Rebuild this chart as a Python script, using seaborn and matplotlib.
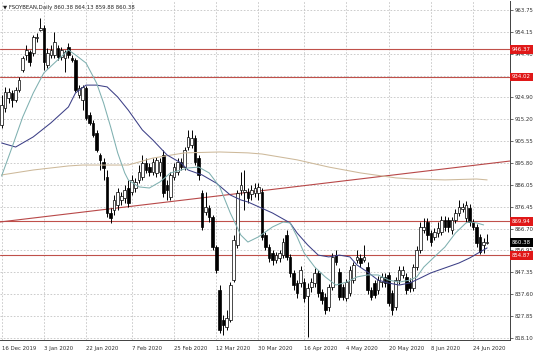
import numpy as np
import pandas as pd
import matplotlib
matplotlib.use("Agg")
import matplotlib.pyplot as plt
import matplotlib.transforms as mtransforms
import seaborn as sns

# ---------------- data ----------------
opens = [912.7, 920.2, 924.7, 926.9, 923.8, 928.2, 937.1, 943.8, 945.1, 944.7,
         951.3, 954.9, 955.8, 939.3, 943.8, 943.8, 946.9, 942.9, 942.4, 947.3,
         942.4, 941.6, 926.0, 923.8, 929.1, 917.1, 913.6, 909.1, 899.4, 896.3,
         889.6, 873.6, 875.0, 877.2, 879.4, 880.3, 884.7, 883.0, 884.7, 888.3,
         889.6, 895.8, 894.1, 891.8, 891.4, 891.8, 899.4, 886.1, 880.7, 889.6,
         891.8, 896.3, 894.1, 902.9, 903.8, 906.9, 898.0, 882.5, 874.1, 875.8,
         871.9, 858.5, 839.4, 826.1, 823.0, 826.1, 843.9, 859.4, 883.8, 883.0,
         883.0, 882.1, 882.5, 882.5, 883.0, 863.9, 858.5, 855.9, 852.8, 853.6,
         855.0, 863.9, 854.1, 847.0, 842.5, 842.5, 843.0, 836.8, 840.8, 842.5,
         847.0, 838.6, 836.3, 831.9, 840.8, 855.0, 847.4, 840.8, 835.9, 838.1,
         843.9, 852.8, 853.6, 852.8, 849.7, 839.4, 842.5, 839.4, 843.0, 845.2,
         846.1, 838.1, 831.9, 843.9, 846.1, 845.2, 843.0, 840.3, 849.7, 857.2,
         866.1, 869.6, 864.7, 863.0, 864.7, 865.2, 870.5, 870.5, 866.1, 870.5,
         873.6, 875.4, 871.4, 875.8, 869.6, 867.4, 863.0, 859.4, 860.38]
highs = [926.0, 929.6, 929.1, 928.2, 929.6, 934.0, 943.3, 948.2, 946.0, 952.7,
         953.5, 960.2, 957.1, 946.9, 948.2, 954.0, 948.2, 947.3, 946.0, 949.1,
         943.8, 942.4, 930.5, 930.5, 930.0, 918.5, 914.9, 910.5, 900.3, 898.0,
         892.7, 875.8, 881.6, 884.7, 883.0, 886.1, 888.3, 890.5, 889.2, 894.9,
         899.4, 898.0, 895.8, 898.0, 898.5, 898.0, 901.6, 888.3, 891.8, 895.8,
         898.0, 898.0, 902.9, 910.5, 910.5, 908.3, 899.4, 883.8, 883.0, 877.2,
         872.7, 859.4, 841.7, 828.3, 830.6, 843.0, 863.9, 883.8, 891.8, 892.7,
         884.7, 886.1, 886.9, 886.9, 884.7, 865.2, 859.9, 857.2, 856.3, 857.2,
         862.5, 866.1, 855.4, 848.3, 843.9, 850.1, 844.8, 842.5, 844.8, 849.2,
         848.3, 839.9, 838.1, 842.1, 855.9, 857.2, 849.2, 842.1, 844.3, 850.1,
         851.9, 857.2, 855.4, 859.4, 851.9, 840.8, 843.9, 845.7, 847.0, 847.0,
         847.4, 839.4, 845.2, 850.1, 850.1, 847.0, 844.8, 851.0, 859.0, 869.6,
         871.4, 871.4, 866.1, 867.0, 869.6, 872.3, 872.3, 871.9, 871.9, 875.4,
         879.4, 878.1, 879.0, 877.6, 871.0, 868.7, 864.3, 862.5, 864.13]
lows = [911.4, 918.5, 922.5, 920.7, 922.9, 927.4, 936.2, 941.6, 938.9, 943.3,
        949.6, 954.4, 937.1, 938.0, 942.4, 942.4, 941.6, 941.6, 936.2, 942.4,
        940.7, 927.4, 924.7, 919.4, 914.9, 912.7, 907.4, 900.7, 892.7, 888.3,
        871.9, 869.2, 872.7, 875.0, 877.2, 878.1, 876.3, 881.6, 883.0, 886.9,
        888.3, 891.4, 890.1, 890.5, 889.6, 890.1, 880.7, 879.4, 879.4, 888.3,
        890.5, 892.7, 892.7, 901.6, 902.5, 894.9, 888.3, 866.1, 872.7, 869.6,
        857.2, 847.0, 820.3, 819.5, 821.7, 825.2, 843.0, 858.1, 881.6, 875.0,
        878.1, 879.4, 880.7, 879.4, 861.6, 857.2, 851.9, 850.5, 851.4, 851.9,
        853.6, 852.8, 845.2, 839.4, 835.9, 840.8, 834.1, 818.6, 838.6, 840.8,
        836.3, 833.2, 828.8, 830.1, 839.4, 850.5, 835.0, 835.0, 834.6, 836.8,
        842.5, 851.4, 849.7, 851.9, 837.7, 835.0, 835.9, 837.7, 840.8, 840.8,
        832.3, 828.3, 830.6, 842.1, 844.8, 837.7, 838.6, 839.0, 848.3, 855.9,
        864.7, 861.6, 859.0, 861.6, 863.0, 863.9, 865.6, 865.2, 864.3, 869.2,
        872.3, 874.1, 869.6, 867.9, 866.1, 858.5, 855.4, 855.9, 859.88]
closes = [921.6, 927.4, 927.4, 923.8, 928.2, 932.7, 942.4, 946.0, 940.7, 951.8,
          951.8, 955.8, 940.7, 944.7, 946.0, 949.6, 942.9, 946.0, 945.1, 943.8,
          941.6, 928.2, 929.1, 929.6, 915.8, 913.6, 908.3, 901.6, 897.2, 893.6,
          873.6, 871.4, 879.4, 883.0, 881.2, 883.8, 878.1, 888.3, 887.4, 891.8,
          895.8, 892.7, 891.8, 896.3, 897.2, 896.3, 882.5, 883.8, 890.5, 894.1,
          896.3, 894.1, 901.6, 907.4, 906.9, 896.3, 890.5, 867.4, 876.3, 871.9,
          858.5, 848.3, 821.7, 823.9, 827.0, 841.7, 861.6, 882.5, 886.1, 883.8,
          880.3, 883.8, 884.7, 885.2, 863.0, 858.5, 853.6, 852.8, 855.0, 855.9,
          860.8, 854.1, 847.0, 841.7, 838.1, 848.3, 835.9, 840.3, 843.0, 847.0,
          838.1, 835.0, 830.6, 840.8, 854.1, 851.9, 836.3, 836.3, 843.0, 848.3,
          850.5, 854.1, 851.4, 854.1, 839.4, 836.3, 837.2, 843.9, 845.2, 842.5,
          833.7, 830.6, 843.9, 848.3, 848.3, 839.4, 840.3, 849.7, 857.2, 867.4,
          867.4, 863.9, 860.8, 865.2, 867.0, 870.5, 867.4, 867.4, 870.5, 873.6,
          876.3, 876.3, 877.2, 869.6, 867.4, 860.3, 856.3, 860.8, 860.38]

date_labels = ["16 Dec 2019", "3 Jan 2020", "22 Jan 2020", "7 Feb 2020",
               "25 Feb 2020", "12 Mar 2020", "30 Mar 2020", "16 Apr 2020",
               "4 May 2020", "20 May 2020", "8 Jun 2020", "24 Jun 2020"]
date_label_bars = [0, 12, 24, 37, 49, 61, 73, 86, 98, 110, 122, 134]

y_ticks = [963.75, 954.15, 944.40, 934.65, 924.90, 915.20, 905.55, 895.80,
           886.05, 876.45, 866.70, 856.95, 847.35, 837.60, 827.85, 818.10]
# the 934.65 label is completely covered by the 934.02 box in the reference
hidden_tick_labels = [934.65]
levels = [946.37, 934.02, 869.94, 854.87]
last_price = 860.38
header = "\u25bc FSOYBEAN,Daily 860.38 864.13 859.88 860.38"

ma_fast_bar = [0, 3, 6, 9, 12, 15, 19, 21, 24, 27, 29, 31, 33, 35, 36, 39, 42,
               45, 48, 51, 53, 56, 59, 62, 65, 68, 70, 73, 77, 80, 82, 84, 86,
               89, 92, 95, 98, 101, 104, 107, 110, 113, 116, 118, 120, 123, 126,
               129, 132, 133, 135, 137]
ma_fast_val = [890.0, 902.9, 916.2, 926.9, 935.8, 940.2, 946.0, 943.8, 940.2,
               931.3, 922.4, 911.8, 900.3, 891.4, 888.3, 885.2, 884.7, 887.4,
               891.4, 892.7, 893.6, 894.0, 891.4, 885.2, 873.6, 863.8, 860.7,
               863.0, 867.4, 869.6, 869.2, 863.0, 855.8, 849.6, 845.2, 841.6,
               842.9, 845.2, 846.1, 846.1, 843.8, 842.9, 843.8, 845.2, 849.6,
               854.1, 858.5, 864.7, 869.2, 869.6, 869.2, 868.3]
ma_mid_bar = [0, 4, 9, 14, 19, 21, 24, 27, 30, 33, 36, 40, 43, 47, 51, 53, 57,
              61, 65, 68, 70, 72, 77, 82, 84, 87, 90, 93, 96, 99, 101, 104, 107,
              110, 113, 116, 119, 122, 126, 130, 133, 136, 138]
ma_mid_val = [904.7, 902.9, 907.4, 913.6, 920.7, 926.9, 930.4, 930.4, 929.6,
              925.1, 919.3, 910.5, 906.0, 899.4, 895.8, 892.7, 890.5, 886.9,
              881.6, 879.4, 878.5, 877.1, 873.6, 869.2, 864.7, 859.4, 854.9,
              854.1, 854.9, 854.1, 850.5, 847.4, 843.8, 842.5, 841.6, 842.5,
              844.7, 847.0, 849.2, 851.4, 853.6, 856.3, 858.1]
ma_slow_bar = [0, 9, 19, 23, 36, 43, 52, 62, 70, 74, 84, 93, 102, 112, 117,
               126, 135, 138]
ma_slow_val = [890.5, 892.7, 894.5, 894.9, 894.9, 898.0, 900.3, 900.7, 900.3,
               899.8, 897.2, 894.0, 891.4, 889.2, 888.7, 888.3, 888.7, 888.3]

trend_bar = [-0.5, 144.6]
trend_val = [869.6, 896.7]

# ---------------- styling ----------------
sns.set_style("white")
plt.rcParams["font.family"] = ["DejaVu Sans"]
FS = 3.9

fig = plt.figure(figsize=(5.36, 3.57), dpi=100)
fig.patch.set_facecolor("white")
ax = fig.add_axes([0.0, 17 / 357, 510 / 536, 339 / 357])
ax.set_facecolor("white")

n = len(closes)
x = np.arange(n)
o = np.array(opens)
c = np.array(closes)
h = np.array(highs)
l = np.array(lows)

ax.set_xlim(-0.45, 144.5)
ax.set_ylim(817.2, 967.75)

# grid
ax.set_xticks(date_label_bars)
ax.set_xticklabels(date_labels, ha="left")
ax.set_yticks(y_ticks)
ax.set_yticklabels(["" if v in hidden_tick_labels else f"{v:.2f}"
                    for v in y_ticks])
ax.grid(True, color="#c4c4c4", linestyle=(0, (2, 2)), linewidth=0.6)
ax.set_axisbelow(True)

# candles
ax.vlines(x, l, h, color="black", linewidth=0.7, zorder=3)
bottom = np.minimum(o, c)
height = np.maximum(np.abs(c - o), 0.3)
colors = ["white" if cc >= oo else "black" for oo, cc in zip(o, c)]
ax.bar(x, height, bottom=bottom, width=0.74, color=colors,
       edgecolor="black", linewidth=0.5, zorder=4)

# moving averages
ma_df = pd.concat([
    pd.DataFrame({"bar": ma_slow_bar, "val": ma_slow_val, "ma": "slow"}),
    pd.DataFrame({"bar": ma_mid_bar, "val": ma_mid_val, "ma": "mid"}),
    pd.DataFrame({"bar": ma_fast_bar, "val": ma_fast_val, "ma": "fast"}),
])
sns.lineplot(data=ma_df, x="bar", y="val", hue="ma",
             palette={"slow": "#cdb99a", "mid": "#3c3f86", "fast": "#7fb0b0"},
             linewidth=0.75, legend=False, ax=ax, zorder=5, sort=False,
             estimator=None)

# horizontal levels and trendline
for lv in levels:
    ax.axhline(lv, color="#c0504a", linewidth=0.8, zorder=2.5)
ax.plot(trend_bar, trend_val, color="#b84848", linewidth=0.8, zorder=2.5)

# axes frame
for side in ["left", "top"]:
    ax.spines[side].set_visible(False)
for side in ["right", "bottom"]:
    ax.spines[side].set_color("#404040")
    ax.spines[side].set_linewidth(0.7)

ax.yaxis.tick_right()
ax.tick_params(axis="y", labelsize=FS, length=2, width=0.5, pad=1.2,
               colors="#303030", direction="out")
ax.tick_params(axis="x", labelsize=FS, length=2, width=0.5, pad=2.5,
               colors="#303030", direction="out")
ax.set_xlabel("")
ax.set_ylabel("")

# price boxes on right
trans = mtransforms.blended_transform_factory(ax.transAxes, ax.transData)
for lv in levels:
    ax.text(1.004, lv, f"{lv:.2f}", transform=trans, ha="left", va="center",
            fontsize=FS, color="white", zorder=10, clip_on=False,
            bbox=dict(boxstyle="square,pad=0.35", fc="#e01818", ec="none"))
ax.text(1.004, last_price, f"{last_price:.2f}", transform=trans, ha="left",
        va="center", fontsize=FS, color="white", zorder=10, clip_on=False,
        bbox=dict(boxstyle="square,pad=0.35", fc="black", ec="none"))

# header
fig.text(3 / 536, 1 - 7 / 357, header, ha="left", va="center", fontsize=FS,
         color="#202020")

fig.savefig("out.png", dpi=100)
